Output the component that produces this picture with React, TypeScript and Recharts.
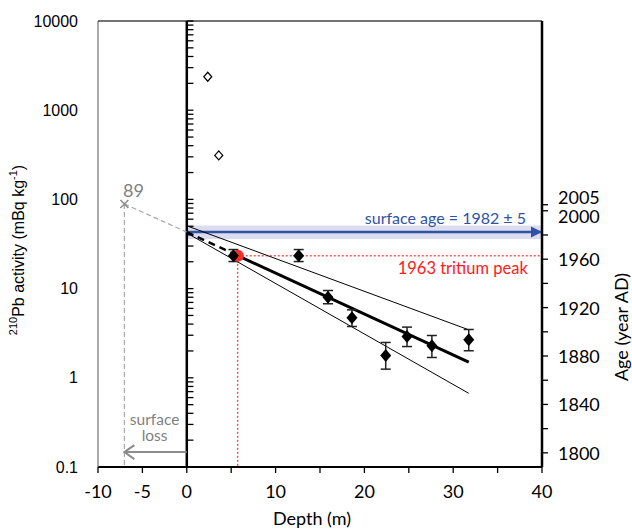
import {
  ComposedChart, Scatter, Line, XAxis, YAxis, ErrorBar,
  ReferenceLine, ReferenceArea, ReferenceDot,
} from 'recharts'

// depth axis (m)
const depthTicks = [-10, -5, 0, 5, 10, 15, 20, 25, 30, 35, 40]
const depthLabelled = [-10, -5, 0, 10, 20, 30, 40]

// activity axis (log)
const activityTicks = [0.1, 1, 10, 100, 1000, 10000]
const decades = [0.1, 1, 10, 100, 1000]
const multiples = [1, 2, 3, 4, 5, 6, 7, 8, 9]

// age axis (year AD)
const ageDomain = [1788.3, 2156.8]
const ageTicks = [1800, 1820, 1840, 1860, 1880, 1900, 1920, 1940, 1960, 1980, 2000, 2005]
const ageLabelled = [1800, 1840, 1880, 1920, 1960, 2000, 2005]
const ageLabelShift: Record<number, number> = { 2005: -8, 2000: 5 }

// 210Pb samples
const sampleDepth = [5.25, 12.6, 15.9, 18.6, 22.4, 24.8, 27.6, 31.75]
const sampleActivity = [23.3, 23.3, 8.0, 4.7, 1.78, 2.9, 2.28, 2.67]
const sampleLow = [20.1, 20.1, 6.76, 3.76, 1.25, 2.24, 1.69, 2.01]
const sampleHigh = [27.4, 27.4, 9.52, 5.78, 2.49, 3.7, 2.98, 3.48]

// surface samples (excluded)
const surfaceDepth = [2.36, 3.6]
const surfaceActivity = [2370, 311]

// tritium peak
const tritiumDepth = 5.74
const tritiumActivity = 23.3

// fit lines
const fitDashDepth = [0, 5.3]
const fitDashActivity = [43, 24.5]
const fitDepth = [5.3, 31.75]
const fitActivity = [24.5, 1.5]
const upperDepth = [0, 31.75]
const upperActivity = [50.6, 3.45]
const lowerDepth = [0, 31.75]
const lowerActivity = [42, 0.67]

// extrapolation to lost surface
const lostDepth = -7.03
const lostActivity = 89
const extrapDepth = [lostDepth, 0]
const extrapActivity = [lostActivity, 43]
const lossArrowActivity = 0.147

// surface age band
const surfaceAgeActivity = 43
const surfaceAgeLow = 36
const surfaceAgeHigh = 51

const pts = (xs: number[], ys: number[]) => xs.map((x, i) => ({ x, y: ys[i] }))

const samples = sampleDepth.map((x, i) => ({
  x,
  y: sampleActivity[i],
  err: [sampleActivity[i] - sampleLow[i], sampleHigh[i] - sampleActivity[i]],
}))
const logTicks = decades.flatMap(d => multiples.map(m => d * m)).concat([10000])

const AX = 'act'
const AGE = 'age'
const CAL = 'Lato, "Open Sans", sans-serif'
const ARIAL = '"Liberation Sans", Arial, sans-serif'

const Diamond = ({ cx, cy }: any) => (
  <polygon points={`${cx},${cy - 6.5} ${cx + 5.5},${cy} ${cx},${cy + 6.5} ${cx - 5.5},${cy}`} fill="#000" />
)
const OpenDiamond = ({ cx, cy }: any) => (
  <polygon points={`${cx},${cy - 4.5} ${cx + 4},${cy} ${cx},${cy + 4.5} ${cx - 4},${cy}`} fill="#fff" stroke="#000" strokeWidth={1.2} />
)
const Cross = ({ cx, cy }: any) => (
  <path d={`M${cx - 4},${cy - 4}L${cx + 4},${cy + 4}M${cx - 4},${cy + 4}L${cx + 4},${cy - 4}`} stroke="#8c8c8c" strokeWidth={1.5} />
)
const RedDot = ({ cx, cy }: any) => <circle cx={cx} cy={cy} r={6} fill="#ff2b2b" />

const arrowRight = (p: any) =>
  p.index === 1
    ? <path key={p.index} d={`M${p.cx},${p.cy}L${p.cx - 11},${p.cy - 5.5}L${p.cx - 11},${p.cy + 5.5}Z`} fill="#2f52a5" />
    : <g key={p.index} />
const arrowLeft = (p: any) =>
  p.index === 1
    ? <path key={p.index} d={`M${p.cx + 10},${p.cy - 7}L${p.cx},${p.cy}L${p.cx + 10},${p.cy + 7}`} fill="none" stroke="#8c8c8c" strokeWidth={2} />
    : <g key={p.index} />

const note = (lines: string[], color: string, anchor: 'start' | 'middle' | 'end', size = 17, gap = 14) =>
  ({ viewBox }: any) => (
    <text x={viewBox.x} y={viewBox.y} textAnchor={anchor} dominantBaseline="central" fill={color} fontSize={size} fontFamily={CAL}>
      {lines.map((l, i) => <tspan key={i} x={viewBox.x} dy={i === 0 ? 0 : gap}>{l}</tspan>)}
    </text>
  )

const DepthTick = ({ x, y, payload }: any) =>
  depthLabelled.includes(payload.value)
    ? <text x={x} y={y + 14} textAnchor="middle" dominantBaseline="central" fontSize={18} fontFamily={CAL} fill="#000">{payload.value}</text>
    : <g />

const ActTick = ({ x, y, payload }: any) => (
  <text x={x} y={y} textAnchor="end" dominantBaseline="central" fontSize={16} fontFamily={ARIAL} fill="#000">{payload.value}</text>
)

const AgeTick = ({ x, y, payload }: any) =>
  ageLabelled.includes(payload.value)
    ? <text x={x} y={y + (ageLabelShift[payload.value] ?? 0)} textAnchor="start" dominantBaseline="central" fontSize={18} fontFamily={CAL} fill="#000">{payload.value}</text>
    : <g />

export default function App() {
  return (
    <div style={{ position: 'absolute', left: 0, top: 0, background: '#fff' }}>
      <ComposedChart width={632} height={532} margin={{ top: 21, right: 30, bottom: 35, left: 38 }}>
        <XAxis
          dataKey="x" type="number" domain={[-10, 40]} ticks={depthTicks} interval={0}
          tick={<DepthTick />} tickSize={6} tickMargin={4}
          stroke="#000" axisLine={{ stroke: '#000', strokeWidth: 2 }} tickLine={{ stroke: '#000', strokeWidth: 1.3 }}
          height={30}
          label={({ viewBox }: any) => (
            <text x={viewBox.x + viewBox.width / 2 - 8} y={viewBox.y + 51} textAnchor="middle" dominantBaseline="central" fontSize={18} fontFamily={CAL} fill="#000">Depth (m)</text>
          )}
        />
        <YAxis
          yAxisId={AX} dataKey="y" type="number" scale="log" domain={[0.1, 10000]} allowDataOverflow
          ticks={activityTicks} interval={0} tick={<ActTick />} tickLine={false} tickSize={0} tickMargin={20}
          axisLine={{ stroke: '#555', strokeWidth: 1 }} width={60}
          label={({ viewBox }: any) => (
            <text transform={`translate(${viewBox.x - 20},250) rotate(-90)`} textAnchor="middle" dominantBaseline="central" fontSize={16} fontFamily={ARIAL} fill="#000">
              <tspan fontSize={11} dy={-5}>210</tspan>
              <tspan dy={5}>Pb activity (mBq kg</tspan>
              <tspan fontSize={11} dy={-5}>-1</tspan>
              <tspan dy={5}>)</tspan>
            </text>
          )}
        />
        <YAxis
          yAxisId={AGE} orientation="right" type="number" domain={ageDomain} allowDataOverflow
          ticks={ageTicks} interval={0} tick={<AgeTick />} tickSize={6} tickMargin={10}
          axisLine={{ stroke: '#000', strokeWidth: 2.5 }} tickLine={{ stroke: '#000', strokeWidth: 1.3 }} width={60}
          label={({ viewBox }: any) => (
            <text transform={`translate(${viewBox.x + 79},327) rotate(-90)`} textAnchor="middle" dominantBaseline="central" fontSize={18} fontFamily={CAL} fill="#000">Age (year AD)</text>
          )}
        />

        <ReferenceArea yAxisId={AX} x1={0} x2={40} y1={surfaceAgeLow} y2={surfaceAgeHigh} fill="#dcdcef" fillOpacity={1} stroke="none" />
        <ReferenceLine yAxisId={AX} y={10000} stroke="#444" strokeWidth={1.3} />
        <ReferenceLine yAxisId={AX} x={0} stroke="#000" strokeWidth={2.5} />
        {logTicks.map(v => (
          <ReferenceLine key={v} yAxisId={AX} segment={[{ x: 0, y: v }, { x: 0.75, y: v }]} stroke="#000" strokeWidth={1.3} />
        ))}

        {/* extrapolation to the lost surface */}
        <Line yAxisId={AX} data={pts(extrapDepth, extrapActivity)} dataKey="y" stroke="#a6a6a6" strokeWidth={1.2} strokeDasharray="5 3" dot={false} isAnimationActive={false} />
        <Line yAxisId={AX} data={pts([lostDepth, lostDepth], [lostActivity, 0.1])} dataKey="y" stroke="#a6a6a6" strokeWidth={1.2} strokeDasharray="5 3" dot={false} isAnimationActive={false} />
        <Line yAxisId={AX} data={pts([0, lostDepth], [lossArrowActivity, lossArrowActivity])} dataKey="y" stroke="#8c8c8c" strokeWidth={2} dot={arrowLeft} isAnimationActive={false} />

        {/* tritium peak guides */}
        <Line yAxisId={AX} data={pts([tritiumDepth, 40], [tritiumActivity, tritiumActivity])} dataKey="y" stroke="#ff0000" strokeWidth={1} strokeDasharray="2 2" dot={false} isAnimationActive={false} />
        <Line yAxisId={AX} data={pts([tritiumDepth, tritiumDepth], [tritiumActivity, 0.1])} dataKey="y" stroke="#ff0000" strokeWidth={1} strokeDasharray="2 2" dot={false} isAnimationActive={false} />

        {/* surface age arrow */}
        <Line yAxisId={AX} data={pts([0, 40], [surfaceAgeActivity, surfaceAgeActivity])} dataKey="y" stroke="#2f52a5" strokeWidth={2.5} dot={arrowRight} isAnimationActive={false} />

        {/* fits */}
        <Line yAxisId={AX} data={pts(upperDepth, upperActivity)} dataKey="y" stroke="#000" strokeWidth={1} dot={false} isAnimationActive={false} />
        <Line yAxisId={AX} data={pts(lowerDepth, lowerActivity)} dataKey="y" stroke="#000" strokeWidth={1} dot={false} isAnimationActive={false} />
        <Line yAxisId={AX} data={pts(fitDashDepth, fitDashActivity)} dataKey="y" stroke="#000" strokeWidth={2.5} strokeDasharray="7 5" dot={false} isAnimationActive={false} />
        <Line yAxisId={AX} data={pts(fitDepth, fitActivity)} dataKey="y" stroke="#000" strokeWidth={3} dot={false} isAnimationActive={false} />

        <Scatter yAxisId={AX} data={[{ x: lostDepth, y: lostActivity }]} dataKey="y" shape={<Cross />} isAnimationActive={false} />
        <Scatter yAxisId={AX} data={[{ x: tritiumDepth, y: tritiumActivity }]} dataKey="y" shape={<RedDot />} isAnimationActive={false} />
        <Scatter yAxisId={AX} data={pts(surfaceDepth, surfaceActivity)} dataKey="y" shape={<OpenDiamond />} isAnimationActive={false} />
        <Scatter yAxisId={AX} data={samples} dataKey="y" shape={<Diamond />} isAnimationActive={false}>
          <ErrorBar dataKey="err" direction="y" width={5} stroke="#222" strokeWidth={1.5} />
        </Scatter>

        <ReferenceDot yAxisId={AX} x={-6.0} y={128} r={0} fill="none" stroke="none" ifOverflow="visible" label={note(['89'], '#7f7f7f', 'middle', 18)} />
        <ReferenceDot yAxisId={AX} x={-3.63} y={0.345} r={0} fill="none" stroke="none" ifOverflow="visible" label={note(['surface', 'loss'], '#7f7f7f', 'middle', 15.5, 16)} />
        <ReferenceDot yAxisId={AX} x={38.2} y={62.7} r={0} fill="none" stroke="none" ifOverflow="visible" label={note(['surface age = 1982 ± 5'], '#2f52a5', 'end', 16)} />
        <ReferenceDot yAxisId={AX} x={38.4} y={17.1} r={0} fill="none" stroke="none" ifOverflow="visible" label={note(['1963 tritium peak'], '#ff1a1a', 'end', 16.5)} />
      </ComposedChart>
    </div>
  )
}
